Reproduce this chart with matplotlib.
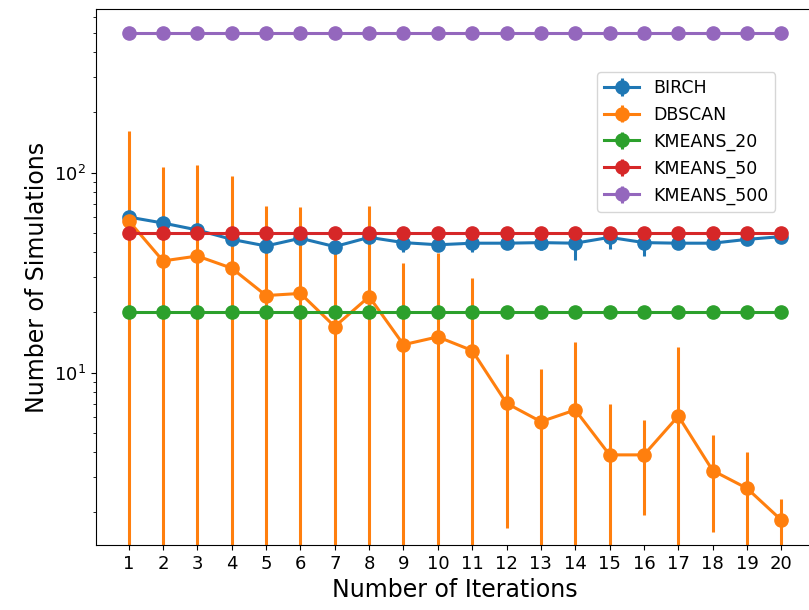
import numpy as np
import matplotlib
matplotlib.use('Agg')
import matplotlib.pyplot as plt

iterations = np.arange(1, 21)

birch_mean = [60, 56, 51.7, 46.4, 43, 47, 42.7, 47.5, 44.7, 43.6,
              44.4, 44.4, 44.7, 44.4, 47.5, 44.7, 44.4, 44.4, 46.4, 47.9]
birch_std = [2, 2, 2, 2, 2, 2, 2, 2, 4.4, 2,
             4.1, 2, 3.5, 7.8, 6.1, 6.4, 2, 2, 2, 1.5]

dbscan_mean = [57.5, 36.2, 38.3, 33.3, 24.3, 24.9, 17.0, 24.0, 13.8, 15.1,
               12.9, 7.03, 5.69, 6.51, 3.88, 3.88, 6.07, 3.24, 2.64, 1.83]
dbscan_std = [104, 71, 71, 63, 43.9, 42.2, 24, 44, 21.4, 24.4,
              16.7, 5.35, 4.7, 7.8, 3.07, 1.93, 7.4, 1.65, 1.39, 0.5]

kmeans20 = [20] * 20
kmeans50 = [50] * 20
kmeans500 = [500] * 20
kmeans_std = [0] * 20

series = [
    ('BIRCH', birch_mean, birch_std),
    ('DBSCAN', dbscan_mean, dbscan_std),
    ('KMEANS_20', kmeans20, kmeans_std),
    ('KMEANS_50', kmeans50, kmeans_std),
    ('KMEANS_500', kmeans500, kmeans_std),
]

fig = plt.figure(figsize=(8.09, 6.10), dpi=100)
ax = fig.add_axes([0.1187, 0.1066, 0.8875, 0.8779])

for name, mean, std in series:
    ax.errorbar(iterations, mean, yerr=std, fmt='-o', label=name,
                markersize=9.5, linewidth=2.2, elinewidth=2.2)

ax.set_yscale('log')
ax.set_ylim(1.375, 655)
ax.set_xlim(0.05, 20.95)
ax.set_xticks(iterations)
ax.tick_params(labelsize=13)
ax.set_xlabel('Number of Iterations', fontsize=17)
ax.set_ylabel('Number of Simulations', fontsize=17)
ax.legend(loc='upper right', bbox_to_anchor=(0.946, 0.883), borderaxespad=0,
          fontsize=12.5)

fig.savefig('out.png', dpi=100)
